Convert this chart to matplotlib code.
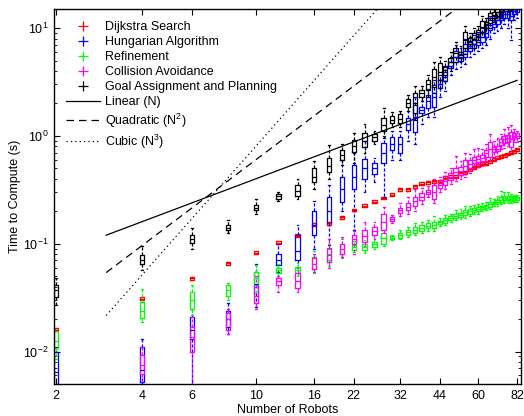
import numpy as np
import matplotlib
matplotlib.use("Agg")
import matplotlib.pyplot as plt
from matplotlib.lines import Line2D
from matplotlib.ticker import FixedLocator, NullLocator, FixedFormatter, LogLocator

plt.rcParams['font.family'] = ['Liberation Sans', 'DejaVu Sans']
plt.rcParams['mathtext.default'] = 'regular'

robots = list(range(2, 84, 2))

# Dijkstra Search (red): median, q1, q3
dij_med = [0.016, 0.031, 0.048, 0.066, 0.082, 0.102, 0.119, 0.150, 0.155, 0.176, 0.206, 0.225, 0.245, 0.266, 0.284,
           0.32, 0.32, 0.34, 0.36, 0.37, 0.38, 0.375, 0.41, 0.42, 0.42, 0.45, 0.46, 0.49, 0.51, 0.53, 0.55, 0.55,
           0.58, 0.60, 0.63, 0.64, 0.66, 0.68, 0.70, 0.72, 0.75]
dij_q1 = [0.0155, 0.030, 0.0465, 0.064, 0.080, 0.099, 0.115, 0.145, 0.150, 0.171, 0.200, 0.218, 0.238, 0.258, 0.275,
          0.310, 0.310, 0.330, 0.349, 0.359, 0.369, 0.364, 0.398, 0.407, 0.407, 0.437, 0.446, 0.475, 0.495, 0.514,
          0.534, 0.534, 0.563, 0.582, 0.611, 0.621, 0.640, 0.660, 0.679, 0.698, 0.728]
dij_q3 = [0.0165, 0.032, 0.0495, 0.068, 0.085, 0.105, 0.123, 0.155, 0.160, 0.181, 0.212, 0.232, 0.252, 0.274, 0.293,
          0.330, 0.330, 0.350, 0.371, 0.381, 0.391, 0.386, 0.422, 0.433, 0.433, 0.464, 0.474, 0.505, 0.525, 0.546,
          0.567, 0.567, 0.597, 0.618, 0.649, 0.659, 0.680, 0.700, 0.721, 0.742, 0.773]

# Hungarian Algorithm (blue)
hun_med = [0.0065, 0.0068, 0.016, 0.020, 0.042, 0.070, 0.085, 0.150, 0.200, 0.320, 0.420, 0.500, 0.500, 0.700, 0.850,
           0.850, 1.30, 1.50, 1.75, 2.10, 2.30, 3.00, 3.50, 4.50, 5.40, 5.40, 6.20, 6.80, 7.20, 7.70, 8.20, 9.00,
           10.6, 11.0, 11.8, 12.6, 13.5, 13.5, 13.0, 14.5, 15.0]
hun_q1 = [0.0042, 0.0052, 0.013, 0.017, 0.035, 0.063, 0.070, 0.120, 0.155, 0.245, 0.320, 0.400, 0.440, 0.560, 0.740,
          0.700, 1.14, 1.09, 1.63, 1.80, 1.86, 2.80, 3.20, 4.30, 4.80, 5.00, 5.40, 6.20, 6.60, 7.00, 7.40, 8.20,
          9.6, 10.2, 11.0, 11.8, 12.5, 12.5, 11.8, 13.5, 14.0]
hun_q3 = [0.0098, 0.011, 0.021, 0.024, 0.055, 0.081, 0.120, 0.200, 0.270, 0.420, 0.540, 0.610, 0.560, 0.860, 0.980,
          0.980, 1.47, 1.94, 1.86, 2.40, 2.96, 3.30, 3.90, 4.80, 6.20, 5.80, 7.20, 7.40, 7.80, 8.40, 9.00, 10.0,
          11.8, 12.0, 12.6, 13.8, 14.5, 14.5, 14.6, 15.5, 16.0]
hun_lo = [0.003, 0.0045, 0.0045, 0.0144, 0.026, 0.055, 0.060, 0.090, 0.098, 0.200, 0.135, 0.300, 0.370, 0.270, 0.600,
          0.600, 0.90, 0.85, 1.30, 1.50, 1.50, 2.30, 2.60, 3.70, 4.20, 4.40, 4.60, 5.40, 5.80, 6.20, 6.50, 7.00,
          8.0, 9.0, 9.5, 10.0, 11.0, 10.0, 7.7, 12.0, 12.5]
hun_hi = [0.011, 0.013, 0.025, 0.028, 0.065, 0.100, 0.150, 0.250, 0.350, 0.600, 0.700, 0.900, 0.620, 1.000, 1.100,
          1.100, 1.70, 2.30, 2.30, 2.70, 3.30, 3.70, 4.40, 5.40, 7.00, 6.50, 8.00, 8.20, 8.60, 9.20, 10.0, 11.0,
          13.0, 13.0, 14.0, 15.0, 16.0, 16.0, 16.5, 17.0, 17.5]

# Refinement (green)
ref_med = [0.0125, 0.024, 0.030, 0.037, 0.048, 0.057, 0.057, 0.065, 0.080, 0.090, 0.093, 0.094, 0.099, 0.112, 0.114,
           0.120, 0.128, 0.135, 0.140, 0.147, 0.150, 0.158, 0.165, 0.173, 0.182, 0.185, 0.196, 0.200, 0.206, 0.210,
           0.218, 0.222, 0.232, 0.240, 0.245, 0.257, 0.265, 0.262, 0.260, 0.265, 0.265]
ref_q1 = [0.0108, 0.0206, 0.025, 0.033, 0.041, 0.054, 0.053, 0.058, 0.070, 0.080, 0.088, 0.087, 0.094, 0.100, 0.111,
          0.114, 0.121, 0.126, 0.132, 0.140, 0.140, 0.153, 0.156, 0.167, 0.174, 0.177, 0.186, 0.190, 0.198, 0.200,
          0.210, 0.215, 0.220, 0.235, 0.236, 0.245, 0.256, 0.252, 0.250, 0.256, 0.256]
ref_q3 = [0.0154, 0.029, 0.036, 0.041, 0.055, 0.060, 0.061, 0.076, 0.090, 0.100, 0.098, 0.100, 0.104, 0.126, 0.117,
          0.126, 0.134, 0.144, 0.148, 0.155, 0.160, 0.163, 0.174, 0.180, 0.190, 0.194, 0.206, 0.210, 0.215, 0.220,
          0.225, 0.230, 0.245, 0.246, 0.255, 0.270, 0.280, 0.275, 0.272, 0.275, 0.273]
ref_lo = [0.0085, 0.0186, 0.022, 0.030, 0.035, 0.050, 0.050, 0.053, 0.062, 0.073, 0.083, 0.082, 0.090, 0.095, 0.108,
          0.110, 0.115, 0.120, 0.125, 0.132, 0.130, 0.145, 0.148, 0.160, 0.165, 0.168, 0.175, 0.180, 0.188, 0.190,
          0.200, 0.205, 0.210, 0.225, 0.225, 0.232, 0.240, 0.240, 0.238, 0.245, 0.245]
ref_hi = [0.016, 0.038, 0.041, 0.043, 0.063, 0.065, 0.066, 0.085, 0.100, 0.110, 0.105, 0.108, 0.110, 0.135, 0.120,
          0.134, 0.142, 0.155, 0.160, 0.165, 0.180, 0.172, 0.185, 0.190, 0.205, 0.210, 0.225, 0.222, 0.230, 0.235,
          0.240, 0.245, 0.265, 0.260, 0.275, 0.310, 0.305, 0.300, 0.290, 0.285, 0.285]

# Collision Avoidance (magenta)
col_med = [0.003, 0.0075, 0.0135, 0.020, 0.033, 0.045, 0.045, 0.065, 0.078, 0.090, 0.110, 0.118, 0.130, 0.160, 0.170,
           0.205, 0.220, 0.250, 0.270, 0.305, 0.300, 0.350, 0.380, 0.420, 0.460, 0.470, 0.530, 0.550, 0.600, 0.610,
           0.620, 0.690, 0.750, 0.750, 0.760, 0.880, 0.930, 0.950, 0.930, 1.000, 1.000]
col_q1 = [0.0025, 0.0062, 0.010, 0.016, 0.028, 0.041, 0.039, 0.058, 0.068, 0.080, 0.100, 0.104, 0.120, 0.134, 0.163,
          0.194, 0.207, 0.225, 0.252, 0.290, 0.260, 0.330, 0.350, 0.390, 0.420, 0.435, 0.460, 0.500, 0.560, 0.570,
          0.580, 0.640, 0.640, 0.710, 0.720, 0.830, 0.860, 0.870, 0.790, 0.960, 0.950]
col_q3 = [0.0035, 0.0093, 0.017, 0.023, 0.040, 0.048, 0.053, 0.074, 0.092, 0.100, 0.120, 0.134, 0.144, 0.190, 0.178,
          0.215, 0.240, 0.270, 0.295, 0.316, 0.350, 0.375, 0.410, 0.450, 0.500, 0.520, 0.600, 0.600, 0.640, 0.650,
          0.660, 0.740, 0.880, 0.790, 0.800, 0.940, 1.000, 1.030, 1.090, 1.070, 1.060]
col_lo = [0.002, 0.0045, 0.0045, 0.0145, 0.025, 0.036, 0.036, 0.055, 0.060, 0.075, 0.080, 0.095, 0.110, 0.125, 0.155,
          0.180, 0.190, 0.200, 0.235, 0.270, 0.240, 0.300, 0.320, 0.360, 0.380, 0.400, 0.420, 0.450, 0.500, 0.520,
          0.530, 0.580, 0.580, 0.640, 0.650, 0.750, 0.780, 0.800, 0.700, 0.880, 0.880]
col_hi = [0.004, 0.011, 0.021, 0.025, 0.050, 0.050, 0.060, 0.080, 0.110, 0.115, 0.130, 0.160, 0.160, 0.220, 0.185,
          0.240, 0.270, 0.320, 0.330, 0.340, 0.400, 0.420, 0.460, 0.500, 0.650, 0.580, 0.700, 0.680, 0.750, 0.780,
          0.760, 0.850, 1.050, 0.900, 0.950, 1.050, 1.150, 1.200, 1.260, 1.150, 1.120]

# Goal Assignment and Planning (black)
goal_med = [0.037, 0.070, 0.110, 0.140, 0.215, 0.280, 0.310, 0.420, 0.530, 0.660, 0.800, 0.900, 0.970, 1.25, 1.40,
            1.45, 2.00, 2.00, 2.50, 3.00, 3.50, 3.90, 4.10, 4.90, 5.90, 5.60, 7.80, 7.60, 8.00, 8.80, 10.3, 10.7,
            12.4, 13.2, 14.0, 15.0, 16.5, 17.0, 18.0, 19.0, 20.0]
goal_q1 = [0.032, 0.065, 0.102, 0.135, 0.206, 0.260, 0.280, 0.370, 0.460, 0.600, 0.710, 0.790, 0.900, 1.11, 1.32,
           1.32, 1.85, 1.63, 2.30, 2.66, 2.85, 3.30, 3.70, 4.50, 5.40, 5.30, 6.50, 7.20, 7.20, 8.20, 9.2, 10.0,
           11.1, 12.4, 13.0, 13.5, 15.0, 15.5, 16.0, 17.0, 18.0]
goal_q3 = [0.041, 0.079, 0.121, 0.150, 0.230, 0.290, 0.350, 0.500, 0.630, 0.740, 0.920, 1.070, 1.040, 1.47, 1.53,
           1.60, 2.20, 2.50, 2.66, 3.30, 4.20, 4.70, 4.50, 5.30, 6.50, 6.00, 9.20, 8.10, 9.00, 9.60, 11.6, 11.4,
           13.8, 14.0, 15.5, 16.5, 18.0, 19.0, 20.0, 21.0, 22.0]
goal_lo = [0.027, 0.057, 0.090, 0.125, 0.190, 0.250, 0.260, 0.320, 0.400, 0.540, 0.560, 0.700, 0.850, 0.95, 1.20,
           1.20, 1.70, 1.40, 2.10, 2.30, 2.50, 2.80, 3.20, 4.00, 4.80, 4.80, 5.80, 6.50, 6.50, 7.50, 8.2, 9.0,
           10.0, 11.5, 12.0, 12.5, 13.5, 14.0, 14.5, 15.0, 16.0]
goal_hi = [0.048, 0.095, 0.140, 0.165, 0.260, 0.300, 0.400, 0.580, 0.820, 0.850, 1.070, 1.290, 1.100, 1.80, 1.65,
           1.70, 2.40, 2.90, 2.90, 3.70, 4.80, 5.40, 5.00, 6.00, 7.50, 6.80, 10.5, 9.00, 10.0, 10.5, 13.0, 12.5,
           15.5, 15.5, 17.0, 18.0, 20.0, 21.0, 22.0, 23.0, 24.0]

# reference complexity curves
ref_N = [3, 82]
lin_coef = 0.04
quad_coef = 0.006
cubic_coef = 0.0008

series = [
    ("Dijkstra Search", "#ff0000", dij_med, dij_q1, dij_q3, dij_q1, dij_q3),
    ("Hungarian Algorithm", "#0000ff", hun_med, hun_q1, hun_q3, hun_lo, hun_hi),
    ("Refinement", "#00ff00", ref_med, ref_q1, ref_q3, ref_lo, ref_hi),
    ("Collision Avoidance", "#ff00ff", col_med, col_q1, col_q3, col_lo, col_hi),
    ("Goal Assignment and Planning", "#000000", goal_med, goal_q1, goal_q3, goal_lo, goal_hi),
]

fig = plt.figure(figsize=(5.24, 4.16), dpi=100)
ax = fig.add_axes([0.103, 0.077, 0.891, 0.901])
ax.set_xscale('log')
ax.set_yscale('log')

pos = np.array(robots, dtype=float)
for name, color, med, q1, q3, lo, hi in series:
    stats = [dict(med=m, q1=a, q3=b, whislo=l, whishi=h, fliers=[])
             for m, a, b, l, h in zip(med, q1, q3, lo, hi)]
    ax.bxp(stats, positions=pos, widths=pos * 0.035, capwidths=pos * 0.015,
           showfliers=False, manage_ticks=False,
           boxprops=dict(color=color, linewidth=0.9),
           medianprops=dict(color=color, linewidth=0.9),
           whiskerprops=dict(color=color, linewidth=0.9, linestyle=(0, (2.5, 1.5))),
           capprops=dict(color=color, linewidth=0.9))

rn = np.array(ref_N, dtype=float)
ax.plot(rn, lin_coef * rn, color='black', lw=0.9, ls='-')
ax.plot(rn, quad_coef * rn ** 2, color='black', lw=0.9, ls=(0, (6, 4)))
ax.plot(rn, cubic_coef * rn ** 3, color='black', lw=0.9, ls=(0, (1, 2.5)))

ax.set_xlim(1.97, 84.5)
ax.set_ylim(0.005, 15)

xticks = [2, 4, 6, 10, 16, 22, 32, 44, 60, 82]
ax.xaxis.set_major_locator(FixedLocator(xticks))
ax.xaxis.set_major_formatter(FixedFormatter([str(t) for t in xticks]))
ax.xaxis.set_minor_locator(NullLocator())
ax.yaxis.set_major_locator(LogLocator(base=10))
ax.yaxis.set_minor_locator(LogLocator(base=10, subs=np.arange(2, 10)))

ax.tick_params(which='both', direction='in', top=True, right=True, labelsize=9, pad=4)
ax.tick_params(which='major', length=4, width=0.8)
ax.tick_params(which='minor', length=2, width=0.6)
for s in ax.spines.values():
    s.set_linewidth(1.0)

ax.set_xlabel("Number of Robots", fontsize=9, labelpad=2)
ax.set_ylabel("Time to Compute (s)", fontsize=9, labelpad=1)

handles = [Line2D([], [], ls='none', marker='+', color=c, markersize=7, markeredgewidth=0.9)
           for _, c, *_ in series]
labels = [s[0] for s in series]
handles += [Line2D([], [], color='black', lw=0.9, ls='-'),
            Line2D([], [], color='black', lw=0.9, ls=(0, (6, 4))),
            Line2D([], [], color='black', lw=0.9, ls=(0, (1, 2.5)))]
labels += ["Linear (N)", "Quadratic (N$^{2}$)", "Cubic (N$^{3}$)"]
ax.legend(handles, labels, loc='upper left', bbox_to_anchor=(0.02, 0.974), frameon=False,
          fontsize=9, handlelength=2.7, handletextpad=0.4, labelspacing=0.24, borderpad=0.2,
          borderaxespad=0.0)

fig.savefig("out.png", dpi=100)
